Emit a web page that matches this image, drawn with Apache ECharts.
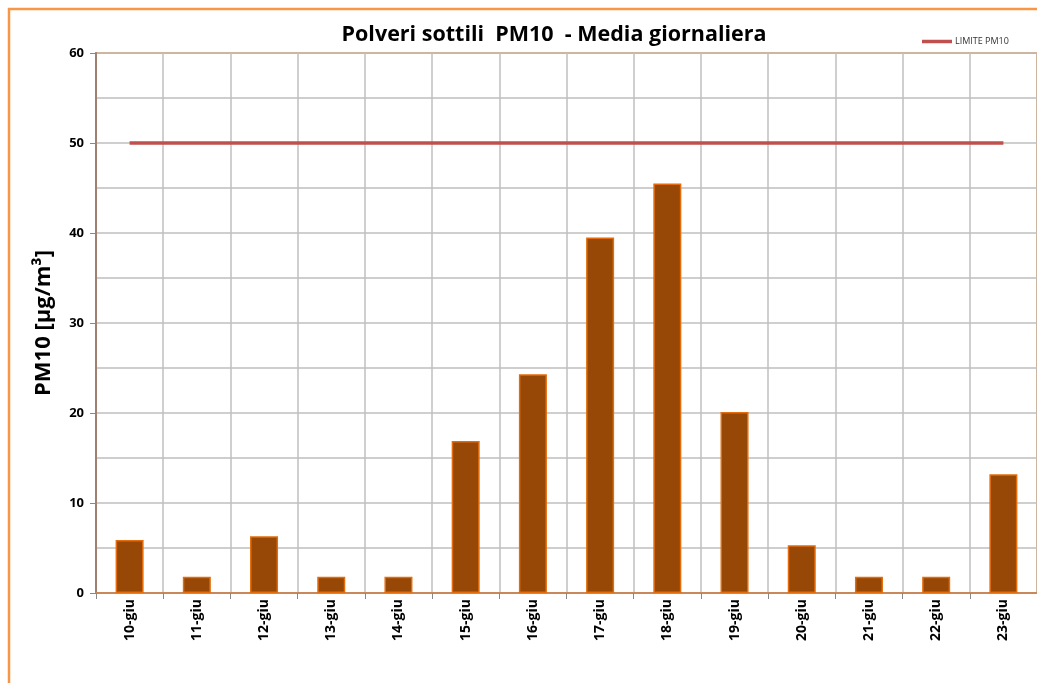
<!DOCTYPE html>
<html><head><meta charset="utf-8">
<script src="https://cdn.jsdelivr.net/npm/echarts@6/dist/echarts.min.js"></script>
<style>html,body{margin:0;padding:0;background:#fff}#c{width:1037px;height:683px}</style>
</head><body><div id="c"></div>
<script>
const categories = ['10-giu','11-giu','12-giu','13-giu','14-giu','15-giu','16-giu','17-giu','18-giu','19-giu','20-giu','21-giu','22-giu','23-giu'];
const pm10Values = [5.9, 1.8, 6.3, 1.8, 1.8, 16.9, 24.3, 39.5, 45.5, 20.1, 5.3, 1.8, 1.8, 13.2];
const limitValues = [50,50,50,50,50,50,50,50,50,50,50,50,50,50];
const yTicks = [0,10,20,30,40,50,60];

const chart = echarts.init(document.getElementById('c'));
const font = '"Open Sans", "Liberation Sans", sans-serif';
chart.setOption({
  animation: false,
  backgroundColor: '#fff',
  graphic: [{
    type: 'rect', shape: {x: 9, y: 9, width: 1100, height: 800},
    style: {fill: 'none', stroke: '#F79646', lineWidth: 2.5}, z: -1
  }],
  title: {
    text: 'Polveri sottili  PM10  - Media giornaliera',
    left: 549, top: 19, textAlign: 'center',
    textStyle: {fontFamily: font, fontWeight: 'bold', fontSize: 21.5, color: '#000'}
  },
  legend: {
    data: [{name: 'LIMITE PM10', icon: 'rect'}],
    left: 917, top: 32, itemWidth: 30, itemHeight: 3.5, itemGap: 3,
    textStyle: {fontFamily: font, fontSize: 9, color: '#333', padding: [0,0,0,-2]}
  },
  grid: {left: 96, top: 53, right: 0, bottom: 90, show: true, borderColor: '#F79646', borderWidth: 2, backgroundColor: 'transparent'},
  xAxis: {
    type: 'category', data: categories, boundaryGap: true,
    axisLine: {lineStyle: {color: '#C8885A', width: 2}},
    axisTick: {show: true, length: 6, lineStyle: {color: '#888'}},
    splitLine: {show: true, lineStyle: {color: '#BFBFBF', width: 1.5}},
    axisLabel: {rotate: 90, fontFamily: font, fontWeight: 'bold', fontSize: 14, color: '#000', margin: 6}
  },
  yAxis: {
    type: 'value', min: 0, max: 60, interval: 10,
    name: 'PM10 [µg/m³]', nameLocation: 'middle', nameGap: 41, nameRotate: 90,
    nameTextStyle: {fontFamily: font, fontWeight: 'bold', fontSize: 22, color: '#000'},
    axisLine: {show: true, lineStyle: {color: '#A08070', width: 2}},
    axisTick: {show: true, length: 6, lineStyle: {color: '#888'}},
    axisLabel: {fontFamily: font, fontWeight: 'bold', fontSize: 13, color: '#000', margin: 12,
      formatter: v => yTicks.includes(v) ? String(v) : ''},
    splitLine: {show: true, lineStyle: {color: '#BFBFBF', width: 1.5}},
    minorTick: {show: false, splitNumber: 2},
    minorSplitLine: {show: true, lineStyle: {color: '#BFBFBF', width: 1.5}}
  },
  series: [
    {name: 'PM10', type: 'bar', data: pm10Values, barWidth: 28,
      itemStyle: {color: '#974706', borderColor: '#E46C0A', borderWidth: 1.5}},
    {name: 'LIMITE PM10', type: 'line', data: limitValues, symbol: 'none', z: 5,
      lineStyle: {color: '#C0504D', width: 3.5}, itemStyle: {color: '#C0504D'}}
  ]
});
</script></body></html>
